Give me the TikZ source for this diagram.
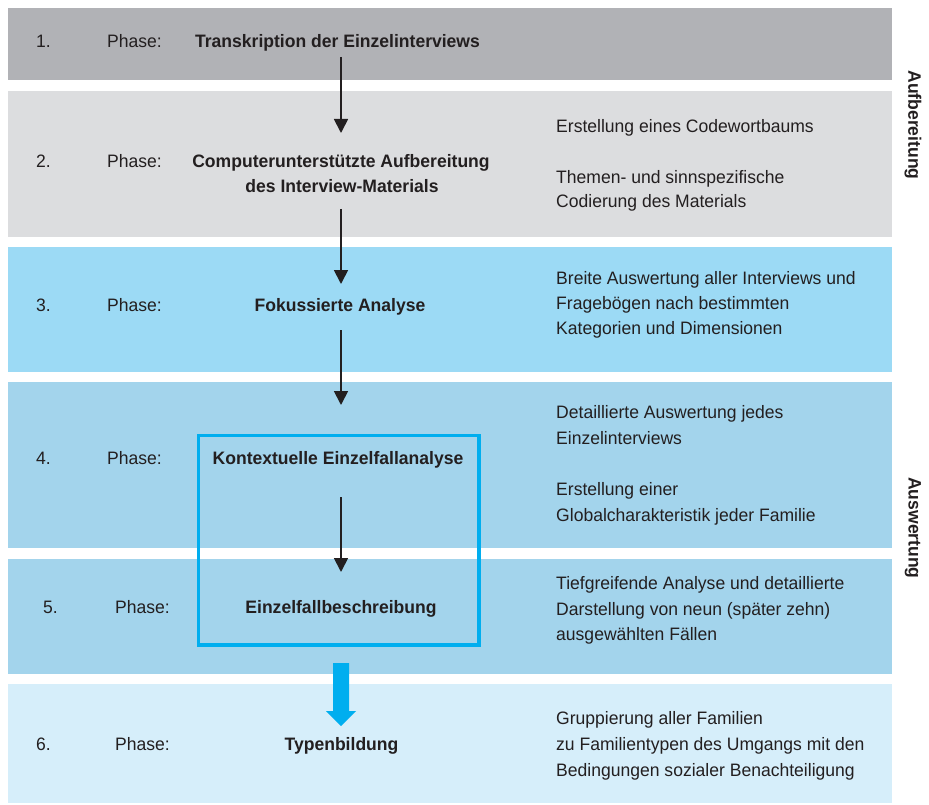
\documentclass[tikz,border=0pt]{standalone}
\usepackage{fontspec}
\setmainfont{Liberation Sans}[FakeStretch=0.975]
\usetikzlibrary{arrows.meta}
\definecolor{gA}{HTML}{B1B2B6}
\definecolor{gB}{HTML}{DCDDDF}
\definecolor{cC}{HTML}{9CDAF5}
\definecolor{cD}{HTML}{A3D4EC}
\definecolor{cF}{HTML}{D6EEFA}
\definecolor{cyanB}{HTML}{00AEEF}
\definecolor{ink}{HTML}{231F20}
\newcommand{\fsz}{\fontsize{18}{25.5}\selectfont}
\begin{document}
\begin{tikzpicture}[x=1pt,y=-1pt,
  band/.style={draw=none,inner sep=0pt,minimum width=884pt,anchor=north west},
  txt/.style={anchor=base west,inner sep=0pt,text=ink,font=\fsz},
  ttl/.style={anchor=base,inner sep=0pt,text=ink,font=\fsz\bfseries},
  side/.style={rotate=-90,inner sep=0pt,text=ink,font=\fsz\bfseries},
  arr/.style={draw=ink,line width=1.8pt,-{Triangle[width=14pt,length=14pt]}}]
\useasboundingbox (0,0) rectangle (929,805);
% bands
\node[band,fill=gA,minimum height=72pt] (b1) at (8,8) {};
\node[band,fill=gB,minimum height=146pt] (b2) at (8,91) {};
\node[band,fill=cC,minimum height=125pt] (b3) at (8,247) {};
\node[band,fill=cD,minimum height=166pt] (b4) at (8,382) {};
\node[band,fill=cD,minimum height=115pt] (b5) at (8,559) {};
\node[band,fill=cF,minimum height=119pt] (b6) at (8,684) {};
% numbers and phase
\node[txt] (n1) at (36,47.5) {1.};
\node[txt] (p1) at (107,47.5) {Phase:};
\node[txt] (n2) at (36,168) {2.};
\node[txt] (p2) at (107,168) {Phase:};
\node[txt] (n3) at (36,311.5) {3.};
\node[txt] (p3) at (107,311.5) {Phase:};
\node[txt] (n4) at (36,464.5) {4.};
\node[txt] (p4) at (107,464.5) {Phase:};
\node[txt] (n5) at (43,613.5) {5.};
\node[txt] (p5) at (115,613.5) {Phase:};
\node[txt] (n6) at (36,750.5) {6.};
\node[txt] (p6) at (115,750.5) {Phase:};
% titles
\node[ttl] (t1) at (337.5,47.5) {Transkription der Einzelinterviews};
\node[ttl] (t2) at (341,168) {Computerunterstützte Aufbereitung};
\node[ttl] (t2b) at (342,193) {des Interview-Materials};
\node[ttl] (t3) at (340,311.5) {Fokussierte Analyse};
\node[ttl] (t4) at (338,464.5) {Kontextuelle Einzelfallanalyse};
\node[ttl] (t5) at (341,613.5) {Einzelfallbeschreibung};
\node[ttl] (t6) at (341.5,750.5) {Typenbildung};
% right texts
\node[txt] (r2a) at (556,132.5) {Erstellung eines Codewortbaums};
\node[txt] (r2b) at (556,183.5) {Themen- und sinnspezifische};
\node[txt] (r2c) at (556,208) {Codierung des Materials};
\node[txt] (r3a) at (556,284.5) {Breite Auswertung aller Interviews und};
\node[txt] (r3b) at (556,309.5) {Fragebögen nach bestimmten};
\node[txt] (r3c) at (556,334.5) {Kategorien und Dimensionen};
\node[txt] (r4a) at (556,418.5) {Detaillierte Auswertung jedes};
\node[txt] (r4b) at (556,444.5) {Einzelinterviews};
\node[txt] (r4c) at (556,495.5) {Erstellung einer};
\node[txt] (r4d) at (556,521.5) {Globalcharakteristik jeder Familie};
\node[txt] (r5a) at (556,589.5) {Tiefgreifende Analyse und detaillierte};
\node[txt] (r5b) at (556,615.5) {Darstellung von neun (später zehn)};
\node[txt] (r5c) at (556,640.5) {ausgewählten Fällen};
\node[txt] (r6a) at (556,724.5) {Gruppierung aller Familien};
\node[txt] (r6b) at (556,750.5) {zu Familientypen des Umgangs mit den};
\node[txt] (r6c) at (556,776.5) {Bedingungen sozialer Benachteiligung};
% side labels
\node[side] (sa) at (913,125) {Aufbereitung};
\node[side] (sb) at (913,528) {Auswertung};
% blue frame
\node[draw=cyanB,line width=3.5pt,inner sep=0pt,minimum width=280.5pt,minimum height=209.7pt,anchor=north west] (box) at (196.75,433.5) {};
% arrow coordinates
\coordinate (a1s) at (341,57);  \coordinate (a1e) at (341,133);
\coordinate (a2s) at (341,209); \coordinate (a2e) at (341,284);
\coordinate (a3s) at (341,330); \coordinate (a3e) at (341,405);
\coordinate (a4s) at (341,497); \coordinate (a4e) at (341,572);
\draw[arr] (a1s) -- (a1e);
\draw[arr] (a2s) -- (a2e);
\draw[arr] (a3s) -- (a3e);
\draw[arr] (a4s) -- (a4e);
% big arrow
\coordinate (ba) at (341,663);
\fill[cyanB] (ba) ++(-8,0) -- ++(16,0) -- ++(0,48) -- ++(7,0) -- ++(-15,15) -- ++(-15,-15) -- ++(7,0) -- cycle;
\end{tikzpicture}
\end{document}
